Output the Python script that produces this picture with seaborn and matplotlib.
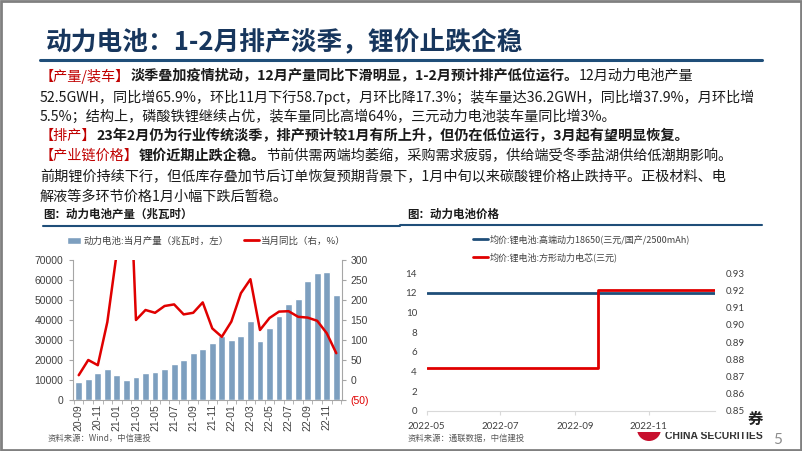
import numpy as np
import pandas as pd
import seaborn as sns
import matplotlib
matplotlib.use("Agg")
import matplotlib.pyplot as plt
import matplotlib.dates as mdates
from matplotlib.patches import Patch, Rectangle, Wedge
from matplotlib.lines import Line2D

# ---- data ----
months = ["20-09", "20-10", "20-11", "20-12", "21-01", "21-02", "21-03", "21-04",
          "21-05", "21-06", "21-07", "21-08", "21-09", "21-10", "21-11", "21-12",
          "22-01", "22-02", "22-03", "22-04", "22-05", "22-06", "22-07", "22-08",
          "22-09", "22-10", "22-11", "22-12"]
prod = [9000, 10300, 13300, 15500, 12500, 10000, 11700, 13300, 14200, 15500,
        17800, 20000, 23700, 25500, 28700, 32000, 30000, 32000, 39700, 29500,
        36200, 42000, 47800, 50500, 59700, 63300, 64000, 52500]
yoy = [12, 50, 37, 145, 320, 750, 150, 175, 168, 185, 189, 164, 168, 194,
       129, 108, 146, 217, 252, 125, 155, 171, 172, 158, 156, 148, 117, 67]

blue_dates = ["2022-05-01", "2022-12-26"]
blue_vals = [12, 12]
red_dates = ["2022-05-01", "2022-09-20", "2022-12-26"]
red_vals = [0.875, 0.92, 0.92]

prod_label = "动力电池:当月产量（兆瓦时，左）"
yoy_label = "当月同比（右，%）"
blue_label = "均价:锂电池:高端动力18650(三元/国产/2500mAh)"
red_label = "均价:锂电池:方形动力电芯(三元)"

BAR = "#7d9fbf"
RED = "#e00000"
NAVY = "#1f4e79"
TITLE = "#17365d"
RED_T = "#c00000"
BLK = "#1a1a1a"
GRAY = "#404040"

sns.set_style("white")
CJK = ['Noto Sans CJK SC', 'DejaVu Sans']
plt.rcParams['font.family'] = CJK
plt.rcParams['axes.unicode_minus'] = False

W, H = 802, 451
fig = plt.figure(figsize=(W / 100, H / 100), dpi=100)
bg = fig.add_axes([0, 0, 1, 1])
bg.set_xlim(0, W)
bg.set_ylim(H, 0)
bg.axis("off")
renderer = fig.canvas.get_renderer()


def runs(x, y, parts, size=10.2):
    for txt, color, weight in parts:
        t = bg.text(x, y, txt, fontsize=size, color=color, fontweight=weight,
                    va="center", ha="left")
        x += t.get_window_extent(renderer).width


# frame + title
bg.add_patch(Rectangle((1, 1), W - 2, H - 2, fill=False, edgecolor="#808080", lw=2))
bg.text(46, 42, "动力电池：1-2月排产淡季，锂价止跌企稳", fontsize=18.5,
        fontweight="bold", color=TITLE, va="center")
bg.plot([40, 762], [60, 60], color=NAVY, lw=2.2)

runs(40, 76, [("【产量/装车】", RED_T, "normal"),
              ("淡季叠加疫情扰动，12月产量同比下滑明显，1-2月预计排产低位运行。", BLK, "bold"),
              ("12月动力电池产量", BLK, "normal")])
runs(40, 97, [("52.5GWH，同比增65.9%，环比11月下行58.7pct，月环比降17.3%；装车量达36.2GWH，同比增37.9%，月环比增", BLK, "normal")])
runs(40, 117, [("5.5%；结构上，磷酸铁锂继续占优，装车量同比高增64%，三元动力电池装车量同比增3%。", BLK, "normal")])
runs(40, 136, [("【排产】", RED_T, "normal"),
               ("23年2月仍为行业传统淡季，排产预计较1月有所上升，但仍在低位运行，3月起有望明显恢复。", BLK, "bold")])
runs(40, 156, [("【产业链价格】", RED_T, "normal"),
               ("锂价近期止跌企稳。", BLK, "bold"),
               ("节前供需两端均萎缩，采购需求疲弱，供给端受冬季盐湖供给低潮期影响。", BLK, "normal")])
runs(40, 177, [("前期锂价持续下行，但低库存叠加节后订单恢复预期背景下，1月中旬以来碳酸锂价格止跌持平。正极材料、电", BLK, "normal")])
runs(40, 197, [("解液等多环节价格1月小幅下跌后暂稳。", BLK, "normal")])

# chart titles
bg.text(43, 214, "图：动力电池产量（兆瓦时）", fontsize=8.3, fontweight="bold", color=BLK, va="center")
bg.plot([43, 400], [226, 226], color=NAVY, lw=1.5)
bg.text(407, 214, "图：动力电池价格", fontsize=8.3, fontweight="bold", color=BLK, va="center")
bg.plot([400, 762], [225, 225], color=NAVY, lw=1.5)

# footer
bg.text(48, 438, "资料来源：Wind，中信建投", fontsize=6, color="#595959", style="italic", va="center")
bg.text(408, 438, "资料来源：通联数据，中信建投", fontsize=6, color="#595959", style="italic", va="center")
bg.add_patch(Wedge((649, 429), 12, 0, 180, facecolor="#c8102e", edgecolor="none"))
bg.text(665, 436, "CHINA SECURITIES", fontsize=7.5, fontweight="bold", color="#333333",
        family="Liberation Sans", va="center")
bg.add_patch(Rectangle((630, 418), 140, 13.5, facecolor="white", edgecolor="none", zorder=5))
bg.text(755, 419, "券", fontsize=11, fontweight="bold", color="#222222", va="center", ha="center", zorder=6)
bg.text(778, 440, "5", fontsize=11, color="#8c8c8c", family="Lato", va="center", ha="center")

# ---- left chart ----
df = pd.DataFrame({"month": months, "prod": prod, "yoy": yoy})
ax1 = fig.add_axes([73 / W, 1 - 400 / H, 269 / W, 140 / H])
ax1.patch.set_alpha(0)
sns.barplot(data=df, x="month", y="prod", color=BAR, saturation=1, width=0.72, ax=ax1)
ax1.set_xlim(-0.6, 27.6)
ax1.set_ylim(0, 70000)
ax1.set_yticks(range(0, 70001, 10000))
ax1.set_xticks(range(0, 28, 2))
ax1.set_xticklabels(months[::2], rotation=90)
ax1.set_xticks(np.arange(-0.5, 28, 1), minor=True)
ax1.tick_params(axis="x", which="major", length=0, pad=3, labelsize=7.5, colors=GRAY)
ax1.tick_params(axis="x", which="minor", length=3, color="#a6a6a6", bottom=True)
ax1.tick_params(axis="y", length=3, color="#a6a6a6", pad=4, labelsize=7.5, labelcolor=GRAY, left=True)
ax1.set_xlabel("")
ax1.set_ylabel("")
for s in ["top", "right"]:
    ax1.spines[s].set_visible(False)
for s in ["left", "bottom"]:
    ax1.spines[s].set_color("#a6a6a6")
    ax1.spines[s].set_linewidth(0.8)
plt.setp(ax1.get_xticklabels() + ax1.get_yticklabels(), family="Liberation Sans")

ax2 = ax1.twinx()
sns.lineplot(x=np.arange(len(yoy)), y=yoy, ax=ax2, color=RED, lw=1.8)
ax2.set_ylim(-50, 300)
ax2.set_yticks(range(-50, 301, 50))
ax2.set_yticklabels(["(50)"] + [str(v) for v in range(0, 301, 50)])
ax2.tick_params(axis="y", length=3, color="#a6a6a6", pad=3, labelsize=7.5, labelcolor=GRAY, right=True)
ax2.get_yticklabels()[0].set_color(RED)
ax2.set_ylabel("")
for s in ["top", "left", "bottom"]:
    ax2.spines[s].set_visible(False)
ax2.spines["right"].set_color("#a6a6a6")
ax2.spines["right"].set_linewidth(0.8)
plt.setp(ax2.get_yticklabels(), family="Liberation Sans")

fig.legend([Patch(facecolor=BAR), Line2D([], [], color=RED, lw=2)], [prod_label, yoy_label],
           loc="center left", bbox_to_anchor=(67 / W, 1 - 241 / H), ncol=2, frameon=False,
           fontsize=6.8, handlelength=1.5, handleheight=0.8, handletextpad=0.3,
           columnspacing=1.6, borderaxespad=0, borderpad=0, labelcolor=GRAY)

# ---- right chart ----
ax3 = fig.add_axes([426.7 / W, 1 - 410.7 / H, 288.3 / W, 137.4 / H])
ax3.patch.set_alpha(0)
sns.lineplot(x=pd.to_datetime(blue_dates), y=blue_vals, ax=ax3, color=NAVY, lw=2)
ax3.set_ylim(0, 14)
ax3.set_yticks(range(0, 15, 2))
ax3.set_xlim(pd.Timestamp("2022-05-01"), pd.Timestamp("2022-12-26"))
ax3.xaxis.set_major_locator(mdates.MonthLocator(bymonth=[5, 7, 9, 11]))
ax3.xaxis.set_major_formatter(mdates.DateFormatter("%Y-%m"))
ax3.tick_params(axis="x", length=3, color="#d9d9d9", pad=5, labelsize=7, labelcolor=GRAY, bottom=True)
ax3.tick_params(axis="y", length=0, pad=7, labelsize=7, labelcolor=GRAY)
ax3.set_xlabel("")
ax3.set_ylabel("")
for s in ["top", "right", "left"]:
    ax3.spines[s].set_visible(False)
ax3.spines["bottom"].set_color("#d9d9d9")
plt.setp(ax3.get_xticklabels() + ax3.get_yticklabels(), family="Lato")

ax4 = ax3.twinx()
sns.lineplot(x=pd.to_datetime(red_dates), y=red_vals, ax=ax4, color=RED, lw=2, drawstyle="steps-post")
ax4.set_ylim(0.85, 0.93)
ax4.set_yticks(np.arange(0.85, 0.9301, 0.01))
ax4.yaxis.set_major_formatter(matplotlib.ticker.FormatStrFormatter("%.2f"))
ax4.tick_params(axis="y", length=0, pad=8, labelsize=7, labelcolor=GRAY)
ax4.set_ylabel("")
for s in ax4.spines.values():
    s.set_visible(False)
plt.setp(ax4.get_yticklabels(), family="Lato")

fig.legend([Line2D([], [], color=NAVY, lw=2), Line2D([], [], color=RED, lw=2)], [blue_label, red_label],
           loc="upper left", bbox_to_anchor=(473 / W, 1 - 234 / H), frameon=False, fontsize=6.5,
           handlelength=1.7, handletextpad=0.2, labelspacing=0.9, borderaxespad=0, borderpad=0,
           labelcolor=GRAY)

fig.savefig("out.png", dpi=100)
